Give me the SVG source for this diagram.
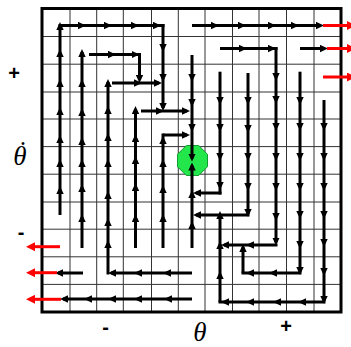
<svg xmlns="http://www.w3.org/2000/svg" width="351" height="347" viewBox="0 0 351 347">
<style>
.g{stroke:#333;stroke-width:1;fill:none}
.k{stroke:#000;stroke-width:3;fill:none;marker-mid:url(#ah)}
.e{marker-end:url(#ae)}
.r{stroke:#f00;stroke-width:3;fill:none;marker-end:url(#rh)}
.s{font-family:"Liberation Sans",Arial,sans-serif;font-weight:bold;font-size:20px;text-anchor:middle}
.t{font-family:"Liberation Serif","Times New Roman",serif;font-style:italic;font-size:27px;text-anchor:middle}
</style>
<defs>
<marker id="ah" markerUnits="userSpaceOnUse" viewBox="0 0 8 8" markerWidth="8" markerHeight="8" refX="8" refY="4" orient="auto"><path d="M0,0.3 L8,4 L0,7.7 z" fill="#000"/></marker>
<marker id="ae" markerUnits="userSpaceOnUse" viewBox="0 0 8 8" markerWidth="8" markerHeight="8" refX="5" refY="4" orient="auto"><path d="M0,0.3 L8,4 L0,7.7 z" fill="#000"/></marker>
<marker id="rh" markerUnits="userSpaceOnUse" viewBox="0 0 9 9" markerWidth="9" markerHeight="9" refX="0" refY="4.5" orient="auto"><path d="M0,0 L9,4.5 L0,9 z" fill="#f00"/></marker>
</defs>
<rect width="351" height="347" fill="#fff"/>
<g id="grid">
<path class="g" d="M70,8.5V312M96.7,8.5V312M123.3,8.5V312M151.5,8.5V312M178.3,8.5V312M205,8.5V312M232.5,8.5V312M259,8.5V312M286.5,8.5V312M314,8.5V312"/>
<path class="g" d="M42,36.5H341M42,64.2H341M42,92H341M42,119H341M42,146.6H341M42,174.2H341M42,202H341M42,229.2H341M42,256.8H341M42,284.4H341"/>
<rect x="42" y="8.5" width="299" height="303.5" fill="none" stroke="#000" stroke-width="3"/>
</g>
<g id="node-equilibrium">
<polygon points="207.5,154.3 198.7,145.5 186.3,145.5 177.5,154.3 177.5,166.7 186.3,175.5 198.7,175.5 207.5,166.7" fill="#22e64a" stroke="#139a32" stroke-width="1"/>
</g>
<g id="connectors">
<path class="k e" d="M60,215V186V159V135V107V79V49V25"/>
<path class="k" d="M58.5,25.5H86H112H139H161H164.5"/>
<path class="k e" d="M163,24V52V82V108"/>
<path class="k e" d="M82,248V214V184V159V137V108V79V52"/>
<path class="k" d="M89,54.5H116H139.5H141"/>
<path class="k e" d="M139.5,53V80"/>
<path class="k e" d="M108,274.5V240V218V191V159V133V106V82"/>
<path class="k e" d="M192,273H163H134H111"/>
<path class="k e" d="M112,83H142H159"/>
<path class="k e" d="M135.5,248V214V183V156V134V109"/>
<path class="k e" d="M141,111H164H187"/>
<path class="k" d="M163,248V214V185V159V136V133.5"/>
<path class="k e" d="M163,135H187"/>
<path class="k e" d="M192,55V82V107V132V158.5"/>
<path class="k e" d="M192,248V221V190V165.5"/>
<path class="k e" d="M192,25.5H219H246H276H299H321"/>
<path class="r" d="M323,25.5H347"/>
<path class="k" d="M220,48.5H247H276H277.5"/>
<path class="k e" d="M276,47V81V104V131V161V191V221V242.5"/>
<path class="k e" d="M277.5,245H246H224"/>
<path class="k e" d="M300,48.5H325"/>
<path class="r" d="M327,48.5H347"/>
<path class="r" d="M323,77H347"/>
<path class="k" d="M220,71.7V105V132V161V190V194.5"/>
<path class="k e" d="M221.5,193H196"/>
<path class="k e" d="M248,73V105V133V161V191V214"/>
<path class="k e" d="M249.5,215H196"/>
<path class="k e" d="M300,71.7V105V131V161V191V219V249V272"/>
<path class="k" d="M301.5,273H269H246H241.5"/>
<path class="k e" d="M243,273V247"/>
<path class="k e" d="M324,100V131V161V191V219V247V276V301"/>
<path class="k" d="M325.5,302H298H273H246H221H218.5"/>
<path class="k e" d="M220,302V271V241V214"/>
<path class="k e" d="M192,299H164H134H108H84H63"/>
<path class="r" d="M61,299.3H35"/>
<path class="k e" d="M83,273H58"/>
<path class="r" d="M57,272.7H35"/>
<path class="r" d="M60,246.7H35"/>
</g>
<g id="labels">
<text class="s" x="14" y="80">+</text>
<text class="t" x="20" y="165">θ<tspan dx="-10" dy="-5">˙</tspan></text>
<text class="s" x="21" y="239">-</text>
<text class="s" x="105.5" y="334">-</text>
<text class="t" x="200" y="341">θ</text>
<text class="s" x="286" y="333">+</text>
</g>
</svg>
